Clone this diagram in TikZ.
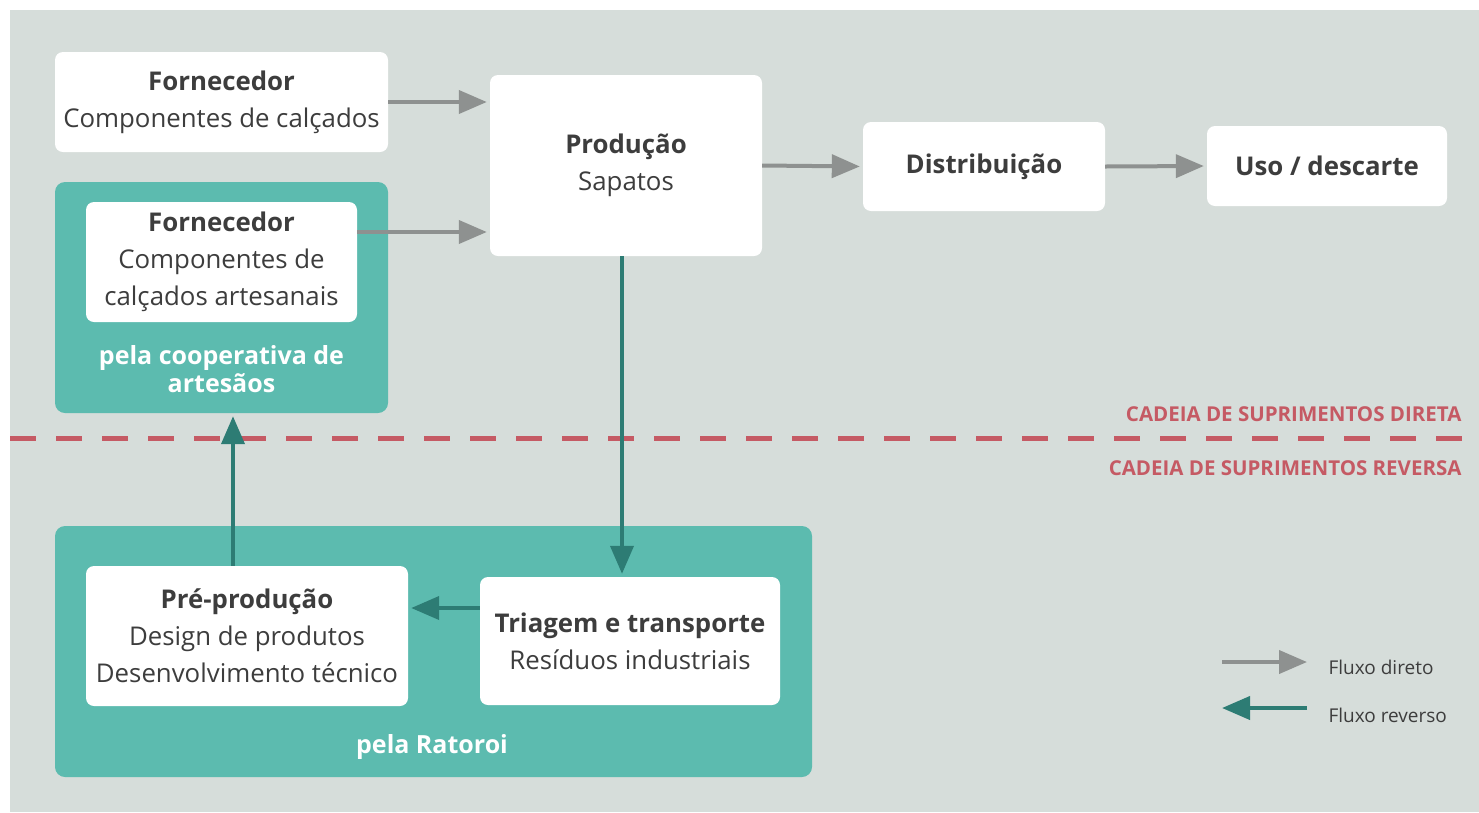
\documentclass[tikz,border=0pt]{standalone}
\usepackage{fontspec}
\setmainfont{Open Sans}
\usetikzlibrary{arrows.meta,calc}
\definecolor{bgc}{RGB}{214,221,218}
\definecolor{tealbox}{RGB}{92,187,175}
\definecolor{darkteal}{RGB}{45,124,116}
\definecolor{grayarrow}{RGB}{142,145,144}
\definecolor{txt}{RGB}{61,61,61}
\definecolor{redlab}{RGB}{197,90,100}
\tikzset{
  whitebox/.style={fill=white, rounded corners=8pt, inner sep=0pt, align=center, text=txt,
    font=\fontsize{25.8}{37}\selectfont},
  tealgroup/.style={fill=tealbox, rounded corners=10pt, inner sep=0pt},
  grouplabel/.style={text=white, font=\fontsize{25}{28}\selectfont\bfseries, align=center},
  direct/.style={draw=grayarrow, line width=4pt, -{Triangle[length=28pt,width=23pt]}, shorten >=3pt},
  reverse/.style={draw=darkteal, line width=4pt, -{Triangle[length=28pt,width=23pt]}, shorten >=3pt},
  redlabel/.style={text=redlab, font=\fontsize{20.5}{24}\selectfont\bfseries, anchor=east},
  legendtext/.style={text=txt, font=\fontsize{19}{22}\selectfont, anchor=west}
}
\begin{document}
\begin{tikzpicture}[x=1pt,y=-1pt]
\useasboundingbox (0,0) rectangle (1479,812);
\fill[white] (0,0) rectangle (1479,812);
\fill[bgc] (10,10) rectangle (1479,812);

% groups
\node[tealgroup, minimum width=333pt, minimum height=231pt] (coop) at (221.5,297.5) {};
\node[tealgroup, minimum width=757pt, minimum height=251pt] (rat) at (433.5,651.5) {};

% boxes
\node[whitebox, minimum width=333pt, minimum height=100pt] (f1) at (221.5,102)
  {\textbf{Fornecedor}\\Componentes de calçados};
\node[whitebox, minimum width=271pt, minimum height=120pt] (f2) at (221.5,262)
  {\textbf{Fornecedor}\\Componentes de\\calçados artesanais};
\node[whitebox, minimum width=272pt, minimum height=181pt] (prod) at (626,165.5)
  {\textbf{Produção}\\Sapatos};
\node[whitebox, minimum width=242pt, minimum height=89pt] (dist) at (984,166.5)
  {\textbf{Distribuição}};
\node[whitebox, minimum width=240pt, minimum height=80pt] (uso) at (1327,166)
  {\textbf{Uso / descarte}};
\node[whitebox, minimum width=322pt, minimum height=140pt] (pre) at (247,636)
  {\textbf{Pré-produção}\\Design de produtos\\Desenvolvimento técnico};
\node[whitebox, minimum width=300pt, minimum height=128pt] (tri) at (630,641)
  {\textbf{Triagem e transporte}\\Resíduos industriais};

% group labels
\node[grouplabel] (coopl) at (221.5,369) {pela cooperativa de\\artesãos};
\node[grouplabel] (ratl) at (432,747) {pela Ratoroi};

% divider
\draw[redlab, line width=5pt, dash pattern=on 26pt off 20pt] (10,438) -- (1479,438);
\node[redlabel] (dlab) at (1465,414) {CADEIA DE SUPRIMENTOS DIRETA};
\node[redlabel] (rlab) at (1465,468) {CADEIA DE SUPRIMENTOS REVERSA};

% direct flows
\draw[direct] (f1.east) -- (f1.east -| prod.west);
\coordinate (f2out) at ([yshift=30pt]f2.east);
\draw[direct] (f2out) -- (f2out -| prod.west);
\draw[direct] (prod.east) -- (dist.west);
\draw[direct] (dist.east) -- (uso.west);

% reverse flows
\coordinate (prodout) at ([xshift=-4pt]prod.south);
\draw[reverse] (prodout) -- (prodout |- tri.north);
\coordinate (triout) at ([yshift=33pt]tri.west);
\draw[reverse] (triout) -- (triout -| pre.east);
\coordinate (preout) at ([xshift=-14pt]pre.north);
\draw[reverse] (preout) -- (preout |- coop.south);

% legend
\coordinate (ld1) at (1222,662);
\coordinate (ld2) at (1307,662);
\coordinate (lr1) at (1307,708);
\coordinate (lr2) at (1222,708);
\draw[direct, shorten >=0pt] (ld1) -- (ld2);
\draw[reverse, shorten >=0pt] (lr1) -- (lr2);
\node[legendtext] (ltd) at (1325,667) {Fluxo direto};
\node[legendtext] (ltr) at (1325,715) {Fluxo reverso};
\end{tikzpicture}
\end{document}
